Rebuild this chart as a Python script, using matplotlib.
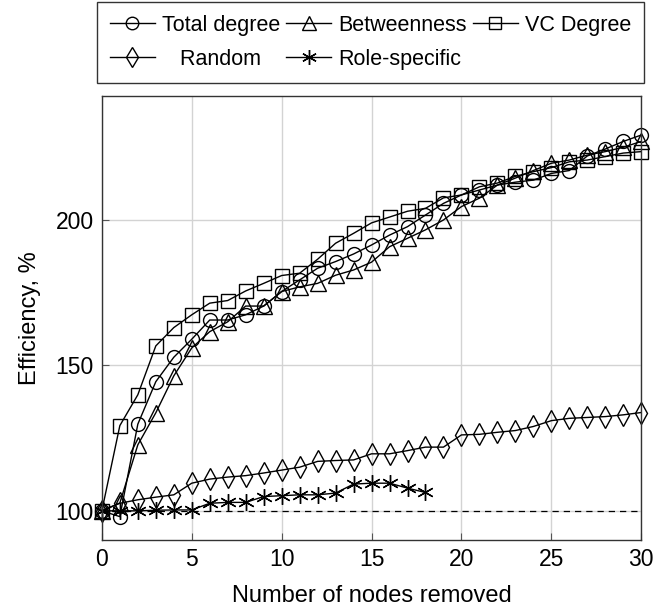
import matplotlib.pyplot as plt
import numpy as np

plt.rcParams['font.family'] = ['Liberation Sans', 'DejaVu Sans']

# nodes removed
nodes = list(range(31))

# efficiency values, %
total_degree = [100, 98, 129.8, 144.4, 152.8, 159, 165.6, 165.6, 167.4, 170.4,
                175.4, 179.4, 183.4, 185.7, 188.3, 191.4, 194.8, 197.7, 201.7, 205.7,
                208.6, 210.3, 212, 213, 213.7, 216, 217, 222, 224.4, 227, 229.2]
betweenness = [100, 102.7, 122.7, 133.7, 146.4, 156, 161.6, 165, 170.4, 170.4,
               175.4, 177, 178.2, 181, 182.8, 185.5, 190.8, 193.7, 196.6, 200,
               204.6, 207.5, 212, 214.4, 217, 219.5, 220.6, 222.3, 223.5, 225, 227]
vc_degree = [100, 129.3, 139.9, 156.7, 163, 167.4, 171.4, 172.3, 175.6, 178.2,
             180.9, 181.7, 186.5, 192, 195.4, 199, 201, 203, 204, 207.6,
             208.6, 211.4, 212.7, 215, 216.6, 218, 220, 220.6, 221.8, 223, 223.5]
random_rm = [100, 102.6, 103.8, 104.7, 105.5, 109.5, 110.9, 111.6, 112.1, 113,
             114, 115, 117, 117.3, 117.5, 119.6, 119.6, 120.7, 121.9, 121.9,
             126.1, 126.3, 127, 127.6, 129, 131, 131.8, 132.1, 132.4, 133, 133.8]
role_nodes = list(range(19))
role_specific = [100, 100, 100, 100.2, 100.3, 100.3, 102.6, 102.9, 102.9, 104.9,
                 105.2, 105.5, 105.5, 106.1, 109.2, 109.5, 109.5, 107.8, 106.3]

fig = plt.figure(figsize=(6.53, 6.08), dpi=100)
ax = fig.add_axes([0.156, 0.112, 0.826, 0.730])

style = dict(color='black', linewidth=1.0, fillstyle='none', markeredgewidth=1.0, clip_on=False)

ax.axhline(100, color='black', linestyle=(0, (5, 4)), linewidth=0.9)

l1, = ax.plot(nodes, total_degree, marker='o', markersize=10, label='Total degree', **style)
l2, = ax.plot(nodes, betweenness, marker='^', markersize=11, label='Betweenness', **style)
l3, = ax.plot(nodes, vc_degree, marker='s', markersize=10, label='VC Degree', **style)
l4, = ax.plot(nodes, random_rm, marker='d', markersize=11, label='Random', **style)
l5, = ax.plot(role_nodes, role_specific, marker=(6, 2, 0), markersize=12, label='Role-specific', **style)

ax.set_xlim(0, 30)
ax.set_ylim(90, 242.6)
ax.set_xticks([0, 5, 10, 15, 20, 25, 30])
ax.set_yticks([100, 150, 200])
ax.grid(True, color='#d3d3d3', linewidth=1.0)
ax.set_axisbelow(True)
ax.tick_params(direction='in', labelsize=16.5, length=5, color='#555555', pad=6)
for sp in ax.spines.values():
    sp.set_linewidth(1.0)
    sp.set_color('#333333')

ax.set_xlabel('Number of nodes removed', fontsize=17, labelpad=10)
ax.set_ylabel('Efficiency, %', fontsize=17, labelpad=10)

fig.legend([l1, l4, l2, l5, l3],
           ['Total degree', '   Random', 'Betweenness', 'Role-specific', 'VC Degree'],
           ncol=3, loc='upper left', bbox_to_anchor=(0.1485, 0.997),
           borderaxespad=0.0,
           fontsize=15.5, frameon=True, fancybox=False, edgecolor='black',
           handlelength=2.1, handletextpad=0.3, columnspacing=0.3,
           borderpad=0.6, labelspacing=0.6, markerscale=0.9)

fig.savefig('out.png', dpi=100)
